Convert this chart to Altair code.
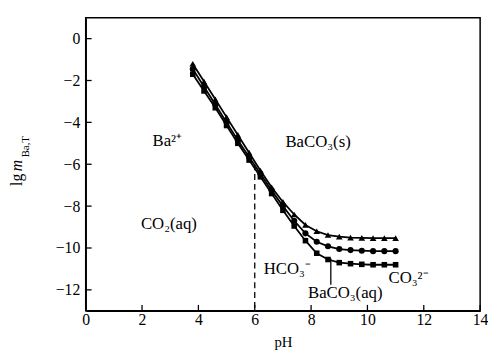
import altair as alt
import pandas as pd

# ---- data ----
ph = [3.8, 4.2, 4.6, 5.0, 5.4, 5.8, 6.2, 6.6, 7.0, 7.4, 7.8, 8.2, 8.6, 9.0, 9.4, 9.8, 10.2, 10.6, 11.0]
tri = [-1.2, -2.05, -2.9, -3.75, -4.6, -5.45, -6.3, -7.1, -7.8, -8.4, -8.9, -9.2, -9.38, -9.46, -9.5, -9.52, -9.53, -9.53, -9.53]
cir = [-1.45, -2.3, -3.15, -4.0, -4.85, -5.65, -6.45, -7.25, -8.0, -8.7, -9.3, -9.7, -9.92, -10.05, -10.1, -10.13, -10.15, -10.15, -10.15]
sqr = [-1.7, -2.5, -3.3, -4.15, -5.0, -5.8, -6.6, -7.4, -8.2, -8.95, -9.65, -10.25, -10.55, -10.7, -10.75, -10.78, -10.8, -10.8, -10.8]

x_ticks = [0, 2, 4, 6, 8, 10, 12, 14]
y_ticks = [0, -2, -4, -6, -8, -10, -12]

labels = ["Ba²⁺", "BaCO₃(s)", "CO₂(aq)", "HCO₃⁻", "BaCO₃(aq)", "CO₃²⁻"]
label_x = [2.37, 7.09, 1.96, 6.32, 7.89, 10.75]
label_y = [-5.15, -5.2, -9.1, -11.26, -12.39, -11.68]

dash_x = [6.0, 6.0]
dash_y = [-6.0, -13.0]
solid_x = [8.7, 8.7]
solid_y = [-10.5, -11.75]

W, H = 401, 298
FONT = "Liberation Serif"

xs = alt.Scale(domain=[0, 14], nice=False)
ys = alt.Scale(domain=[-13, 1], nice=False)

df = pd.DataFrame({
    "pH": ph * 3,
    "v": tri + cir + sqr,
    "s": ["tri"] * len(ph) + ["cir"] * len(ph) + ["sqr"] * len(ph),
})

xax = alt.Axis(values=x_ticks, ticks=False, grid=False, domainColor="black", domainWidth=1.5,
               labelFont=FONT, labelFontSize=16, labelColor="black", labelPadding=1,
               title="pH", titleFont=FONT, titleFontSize=15, titleFontWeight="normal",
               titleColor="black", titlePadding=7, labelFlush=False)
yax = alt.Axis(values=y_ticks, ticks=False, grid=False, domainColor="black", domainWidth=1.5,
               labelFont=FONT, labelFontSize=16, labelColor="black", labelPadding=6,
               title=None, format="d")

base = alt.Chart(df)
lines = base.mark_line(color="black", strokeWidth=1.8).encode(
    x=alt.X("pH:Q", scale=xs, axis=xax),
    y=alt.Y("v:Q", scale=ys, axis=yax),
    detail="s:N",
)
pts = base.mark_point(filled=True, opacity=1, color="black").encode(
    x=alt.X("pH:Q", scale=xs),
    y=alt.Y("v:Q", scale=ys),
    shape=alt.Shape("s:N", scale=alt.Scale(domain=["tri", "cir", "sqr"],
                                            range=["triangle-up", "circle", "square"]), legend=None),
    size=alt.Size("s:N", scale=alt.Scale(domain=["tri", "cir", "sqr"], range=[45, 32, 36]), legend=None),
)

dash = alt.Chart(pd.DataFrame({"x": dash_x, "y": dash_y})).mark_line(
    color="black", strokeWidth=1.3, strokeDash=[6, 4]).encode(
    x=alt.X("x:Q", scale=xs), y=alt.Y("y:Q", scale=ys))
solid = alt.Chart(pd.DataFrame({"x": solid_x, "y": solid_y})).mark_line(
    color="black", strokeWidth=1.3).encode(
    x=alt.X("x:Q", scale=xs), y=alt.Y("y:Q", scale=ys))

xt = alt.Chart(pd.DataFrame({"t": x_ticks})).mark_rule(color="black", strokeWidth=1.3).encode(
    x=alt.X("t:Q", scale=xs), y=alt.value(H), y2=alt.value(H - 6))
yt = alt.Chart(pd.DataFrame({"t": y_ticks})).mark_rule(color="black", strokeWidth=1.3).encode(
    y=alt.Y("t:Q", scale=ys), x=alt.value(0), x2=alt.value(6))

txt = alt.Chart(pd.DataFrame({"l": labels, "x": label_x, "y": label_y})).mark_text(
    font=FONT, fontSize=17, align="left", baseline="alphabetic", color="black").encode(
    x=alt.X("x:Q", scale=xs), y=alt.Y("y:Q", scale=ys), text="l:N")

t1 = alt.Chart(pd.DataFrame({"l": ["lg"]})).mark_text(
    font=FONT, fontSize=16, angle=270, align="left", baseline="alphabetic", color="black").encode(
    x=alt.value(-65), y=alt.value(171), text="l:N")
t2 = alt.Chart(pd.DataFrame({"l": ["m"]})).mark_text(
    font=FONT, fontSize=16, fontStyle="italic", angle=270, align="left", baseline="alphabetic",
    color="black").encode(x=alt.value(-65), y=alt.value(156), text="l:N")
t3 = alt.Chart(pd.DataFrame({"l": ["Ba,T"]})).mark_text(
    font=FONT, fontSize=11, angle=270, align="left", baseline="alphabetic", color="black").encode(
    x=alt.value(-58), y=alt.value(142), text="l:N")

chart = alt.layer(lines, pts, dash, solid, xt, yt, txt, t1, t2, t3).properties(
    width=W, height=H,
    autosize=alt.AutoSizeParams(type="none"),
    padding={"left": 79, "top": 7, "right": 8, "bottom": 37},
    background="white",
).configure_view(stroke="black", strokeWidth=1.5)

chart.save("out.html", embed_options={"renderer": "svg", "actions": False})
